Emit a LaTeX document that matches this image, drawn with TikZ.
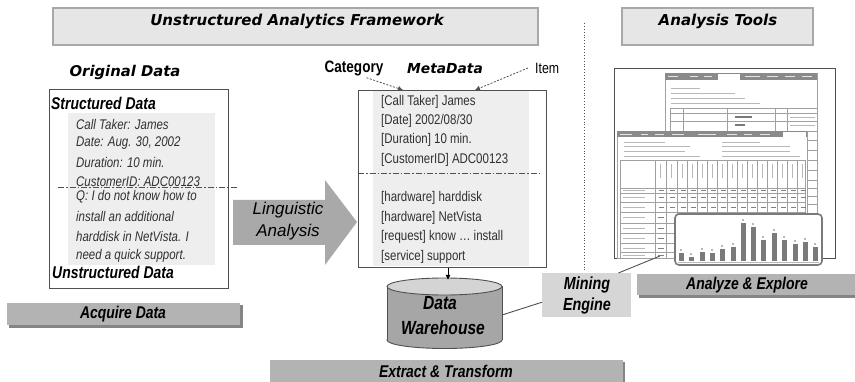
\documentclass[tikz,border=0pt]{standalone}
\usepackage{fontspec}
\setmainfont{Liberation Sans}
\newfontfamily\nar[FakeStretch=0.82]{Liberation Sans}
\newfontfamily\wide{DejaVu Sans}
\usetikzlibrary{arrows.meta}
\definecolor{titlefill}{HTML}{E6E6E6}
\definecolor{titleline}{HTML}{A8A8A8}
\definecolor{barfill}{HTML}{B3B3B3}
\definecolor{barshadow}{HTML}{858585}
\definecolor{arrowfill}{HTML}{A9A9A9}
\definecolor{minefill}{HTML}{D6D6D6}
\definecolor{cylbody}{HTML}{A6A6A6}
\definecolor{cyltop}{HTML}{D4D4D4}
\definecolor{innerfill}{HTML}{EEEEEE}
\definecolor{boxline}{HTML}{505050}
\definecolor{tabgray}{HTML}{8A8A8A}
\definecolor{gridgray}{HTML}{A0A0A0}
\definecolor{markgray}{HTML}{B8B8B8}
\definecolor{chartbar}{HTML}{7A7A7A}
\definecolor{textgray}{HTML}{303030}
\tikzset{
  titlebox/.style={draw=titleline, fill=titlefill, line width=1.2pt},
  bigtitle/.style={font=\wide\bfseries\itshape\fontsize{15}{18}\selectfont, inner sep=0pt},
  headtitle/.style={font=\wide\bfseries\itshape\fontsize{13.8}{16}\selectfont, inner sep=0pt},
  stagebar/.style={fill=barfill},
  stageshadow/.style={fill=barshadow},
  stagelabel/.style={font=\nar\bfseries\itshape\fontsize{17}{20}\selectfont, inner sep=0pt},
  bodyit/.style={font=\nar\itshape\fontsize{14}{16}\selectfont, anchor=west, inner sep=0pt, text=textgray},
  bodyrm/.style={font=\nar\fontsize{14}{16}\selectfont, anchor=west, inner sep=0pt, text=textgray},
  subhead/.style={font=\nar\bfseries\itshape\fontsize{17}{20}\selectfont, anchor=west, inner sep=0pt},
  dashdot/.style={dash pattern=on 6pt off 2pt on 1.5pt off 2pt, draw=boxline, line width=0.8pt},
  pointer/.style={draw=boxline, line width=0.8pt, dash pattern=on 2pt off 1.5pt, -{Latex[length=5pt,width=5pt]}},
  conn/.style={draw=boxline, line width=0.9pt},
  winline/.style={draw=gridgray, line width=0.5pt},
  txtmark/.style={draw=markgray, line width=0.9pt},
}
\begin{document}
\begin{tikzpicture}[x=1pt,y=-1pt]
\useasboundingbox (0,0) rectangle (855,382);

% ---------- top title boxes ----------
\draw[titlebox] (53,8) rectangle (538,45);
\node[bigtitle] (fwtitle) at (297,21) {Unstructured Analytics Framework};
\draw[titlebox] (622,8) rectangle (813,45);
\node[bigtitle] (tooltitle) at (718,21) {Analysis Tools};

% dotted separator
\draw[dotted, draw=boxline, line width=0.9pt] (584,23) -- (584,272);

% ---------- Original data ----------
\node[headtitle, font=\wide\bfseries\itshape\fontsize{14.8}{17}\selectfont] (origtitle) at (125,72) {Original Data};
\draw[draw=boxline, line width=0.9pt, fill=white] (49,89) rectangle (228,288);
\fill[innerfill] (68,113) rectangle (215,265);
\node[subhead] (sdata) at (51,103) {Structured Data};
\node[bodyit] (o1) at (76,124) {Call Taker: James};
\node[bodyit] (o2) at (76,143) {Date: Aug. 30, 2002};
\node[bodyit] (o3) at (76,162) {Duration: 10 min.};
\node[bodyit] (o4) at (76,182) {CustomerID: ADC00123};
\draw[dashdot] (58,187) -- (237,187);
\node[bodyit] (o5) at (76,197) {Q: I do not know how to};
\node[bodyit] (o6) at (76,217) {install an additional};
\node[bodyit] (o7) at (76,237) {harddisk in NetVista. I};
\node[bodyit] (o8) at (76,256) {need a quick support.};
\node[subhead] (udata) at (52,272) {Unstructured Data};

% Acquire bar
\fill[stageshadow] (9,305) rectangle (243,328);
\fill[stagebar] (7,303) rectangle (240,325);
\node[stagelabel] (acq) at (123,314) {Acquire Data};

% ---------- Linguistic Analysis arrow ----------
\fill[arrowfill] (233,200) -- (325,200) -- (325,180) -- (357,222) -- (325,265) -- (325,245) -- (233,245) -- cycle;
\node[font=\itshape\fontsize{17}{20}\selectfont, inner sep=0pt] (ling1) at (288,210) {Linguistic};
\node[font=\itshape\fontsize{17}{20}\selectfont, inner sep=0pt] (ling2) at (288,232) {Analysis};

% ---------- MetaData ----------
\node[font=\nar\bfseries\fontsize{16.5}{18}\selectfont, inner sep=0pt] (cat) at (354,68) {Category};
\node[headtitle] (metatitle) at (445,69) {MetaData};
\node[font=\nar\fontsize{15}{18}\selectfont, inner sep=0pt, anchor=west] (item) at (535,68) {Item};
\node[draw=boxline, line width=0.9pt, fill=white, anchor=north west, minimum width=188, minimum height=177, inner sep=0pt] (meta) at (358,90) {};
\fill[innerfill] (373,91) rectangle (529,266);
\node[bodyrm] (m1) at (381,102) {[Call Taker] James};
\node[bodyrm] (m2) at (381,121) {[Date] 2002/08/30};
\node[bodyrm] (m3) at (381,140) {[Duration] 10 min.};
\node[bodyrm] (m4) at (381,160) {[CustomerID] ADC00123};
\draw[dashdot] (358,173) -- (542,173);
\node[bodyrm] (m5) at (381,198) {[hardware] harddisk};
\node[bodyrm] (m6) at (381,218) {[hardware] NetVista};
\node[bodyrm] (m7) at (381,237) {[request] know \dots\ install};
\node[bodyrm] (m8) at (381,257) {[service] support};
\coordinate (catend) at (403,90);
\coordinate (itemend) at (475,90);
\draw[pointer] ([shift={(-17,2)}]cat.south east) -- (catend);
\draw[pointer] ([xshift=-7pt]item.west) -- (itemend);

% ---------- Data warehouse cylinder ----------
\draw[draw=boxline, line width=0.9pt, fill=cylbody] (444.5,340) ellipse [x radius=57.5, y radius=8.5];
\fill[cylbody] (387,286.5) rectangle (502,340);
\draw[draw=boxline, line width=0.9pt] (387,286.5) -- (387,340) (502,286.5) -- (502,340);
\draw[draw=boxline, line width=0.9pt, fill=cyltop] (444.5,286.5) ellipse [x radius=57.5, y radius=8.5];
\node[font=\nar\bfseries\itshape\fontsize{19}{22}\selectfont, inner sep=0pt] (dw1) at (440,303) {Data};
\node[font=\nar\bfseries\itshape\fontsize{19}{22}\selectfont, inner sep=0pt] (dw2) at (443,328) {Warehouse};
\coordinate (dwtop) at (448,280);
\coordinate (dwright) at (502,315);
\draw[draw=black, line width=0.9pt, -{Latex[length=5pt,width=5pt]}] (meta.south -| dwtop) -- (dwtop);

% Extract bar
\fill[stageshadow] (272,362) rectangle (625,384);
\fill[stagebar] (270,360) rectangle (623,384);
\node[stagelabel] (ext) at (446,371) {Extract \& Transform};

% ---------- Mining engine ----------
\node[fill=minefill, anchor=north west, minimum width=89, minimum height=44, inner sep=0pt] (mine) at (542,273) {};
\node[font=\nar\bfseries\itshape\fontsize{17.5}{20}\selectfont, inner sep=0pt] (mine1) at (587,285) {Mining};
\node[font=\nar\bfseries\itshape\fontsize{17.5}{20}\selectfont, inner sep=0pt] (mine2) at (587,306) {Engine};
\draw[conn] (dwright) -- ([yshift=-7pt]mine.west);

% ---------- Screenshot ----------
\node[draw=boxline, line width=1pt, fill=white, anchor=north west, minimum width=221, minimum height=190, inner sep=0pt] (shot) at (614,68) {};
% back window
\draw[winline, fill=white] (665,73) rectangle (817,131);
\fill[tabgray] (665,73) rectangle (817,80);
\fill[white] (718,74) rectangle (740,80);
\foreach \a/\b in {668/678,690/698,704/712,745/760,767/778,785/795,802/812}
  \draw[draw=white!80!gray, line width=0.6pt] (\a,76.5) -- (\b,76.5);
\draw[txtmark] (671,88) -- (700,88) (671,93) -- (735,93) (671,98) -- (745,98) (671,103) -- (760,103);
\draw[winline] (670,108) rectangle (817,131);
\draw[winline] (670,113) -- (817,113) (670,121) -- (817,121);
\foreach \x in {683,727,775,787} \draw[winline] (\x,108) -- (\x,131);
\fill[chartbar] (735,116) rectangle (752,118.5);
\fill[chartbar] (735,124) rectangle (745,126.5);
\draw[txtmark] (790,117) -- (815,117) (790,125) -- (815,125);
% right column of the back table
\draw[winline] (817,131) -- (817,240);
\foreach \y in {140,150,160,170,180,188,196,204,214} \draw[winline] (805,\y) -- (817,\y);
% front window
\draw[winline, fill=white] (617,131) rectangle (807,258);
\fill[tabgray] (617,131) rectangle (807,137);
\fill[white] (783,132) rectangle (806,137);
\foreach \a/\b in {620/632,641/648,655/664,672/684,698/716,727/737,744/752,760/770}
  \draw[draw=white!80!gray, line width=0.6pt] (\a,134) -- (\b,134);
\draw[txtmark] (624,142) -- (665,142) (624,146) -- (690,146) (624,151) -- (685,151) (624,156) -- (700,156);
\draw[txtmark] (722,142) -- (760,142) (722,146) -- (790,146) (722,151) -- (790,151) (722,156) -- (800,156);
\draw[winline] (620,160) rectangle (805,258);
\foreach \y in {188,193,202,212,223,233,243,252} \draw[winline] (620,\y) -- (805,\y);
\foreach \x in {655,666,677,687,697,707,717,727,737,747,757,767,777,787,797} \draw[winline] (\x,160) -- (\x,258);
\foreach \x in {657,668,679,689,699,709,719,729,739,749,759,769,779,789,799}
  \draw[draw=markgray, line width=0.8pt] (\x+3,164) -- (\x+3,178);
\foreach \y in {190.5,197.5,207,217.5,228,238,248,255}
  \draw[txtmark] (623,\y) -- (645,\y);
\foreach \x in {657,668,679,689,699,709,719,729,739,749,759,769,779,789,799}
  \foreach \y in {190.5,197.5,207}
    \draw[draw=gray, line width=0.8pt] (\x+1.5,\y) -- (\x+7,\y);
\foreach \y in {217.5,228,238,248,255}
  \draw[draw=gray, line width=0.8pt] (657.5,\y) -- (664,\y);
\coordinate (shotpt) at (660,256);
% chart inset
\draw[rounded corners=4pt, draw=chartbar, line width=1.6pt, fill=white] (675,214) rectangle (822,265);
\foreach \x/\t in {681/253,691/257,702/252,712/253,722/249,733/247,743/223,753/227,763/240,774/233,784/240,795/244,805/242,815/247} {
  \fill[chartbar] (\x-2.5,\t) rectangle (\x+2.5,261);
  \fill[markgray] (\x-1.2,\t-3.5) rectangle (\x+1.2,\t-2);
}
\draw[draw=markgray, line width=0.6pt] (678,262.5) -- (819,262.5);
\draw[conn] ([xshift=-13pt]mine.north east) -- (shotpt);

% Analyze bar
\fill[stageshadow] (639,276) rectangle (857,298);
\fill[stagebar] (637,274) rectangle (857,295);
\node[stagelabel] (ana) at (747,285) {Analyze \& Explore};
\end{tikzpicture}
\end{document}
